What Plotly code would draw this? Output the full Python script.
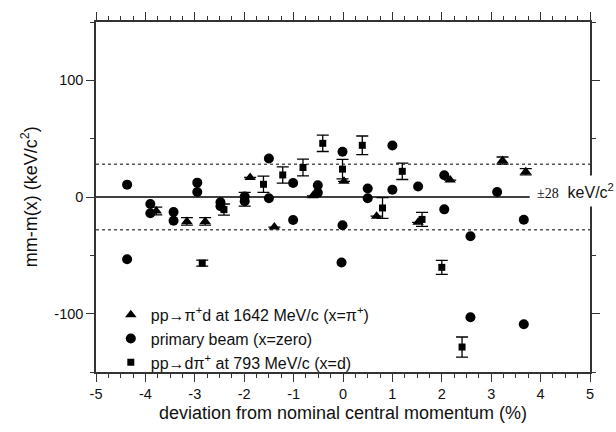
import plotly.graph_objects as go

# pp -> pi+ d at 1642 MeV/c (x = pi+)
tri_x = [-3.78, -3.16, -2.79, -1.88, -1.39, -0.61, 0.02, 0.68, 1.52, 2.17, 3.23, 3.70]
tri_y = [-12.0, -20.9, -20.9, 16.7, -25.8, 1.0, 13.4, -16.4, -21.7, 14.5, 31.3, 21.7]
tri_e = [3.3, 3.2, 3.2, 0.0, 0.0, 0.0, 0.0, 0.0, 0.0, 0.0, 3.0, 2.7]

# primary beam (x = zero)
circ_x = [-4.37, -4.37, -3.90, -3.90, -3.43, -3.43, -2.95, -2.95, -2.48, -2.48,
          -1.99, -1.99, -1.50, -1.50, -1.01, -1.01, -0.51, -0.51, -0.01, -0.01,
          -0.03, 0.50, 0.50, 1.00, 1.00, 1.52, 2.05, 2.05, 2.58, 2.58, 3.12,
          3.66, 3.66]
circ_y = [10.6, -53.4, -6.0, -13.9, -12.8, -20.3, 12.3, 4.3, -4.6, -7.9,
          0.4, -3.7, -1.0, 33.0, 12.0, -19.7, 10.1, 3.7, 38.8, -24.2,
          -56.2, 7.3, -1.0, 44.1, 6.2, 9.0, 18.6, -10.6, -33.6, -103.1, 4.3,
          -19.5, -109.0]

# pp -> d pi+ at 793 MeV/c (x = d)
sq_x = [-2.85, -2.41, -1.99, -1.61, -1.22, -0.81, -0.41, -0.01, 0.39, 0.80,
        1.20, 1.60, 2.00, 2.41]
sq_y = [-56.7, -10.8, -1.9, 10.9, 18.9, 25.3, 46.0, 23.9, 44.3, -9.4,
        22.0, -19.2, -60.3, -128.6]
sq_e = [2.6, 4.8, 5.9, 7.0, 7.0, 7.2, 7.0, 8.3, 8.0, 8.9, 7.0, 6.0, 6.0, 8.6]

band = 28
x_ticks = [-5, -4, -3, -2, -1, 0, 1, 2, 3, 4, 5]
x_ticktext = ["-5", "-4", "-3", "-2", "-1", "0", "1", "2", "3", "4", "5"]
y_ticks = [-100, 0, 100]
y_ticktext = ["-100", "0", "100"]

FONT = "Liberation Sans, Arial, Helvetica, sans-serif"
INK = "#111"

fig = go.Figure()
fig.add_trace(go.Scatter(
    x=tri_x, y=tri_y, mode="markers",
    name="pp→π<sup>+</sup>d at 1642 MeV/c (x=π<sup>+</sup>)",
    marker=dict(symbol="triangle-up", size=10, color="black"),
    error_y=dict(type="data", array=tri_e, visible=True, color="black",
                 thickness=1.3, width=6),
))
fig.add_trace(go.Scatter(
    x=circ_x, y=circ_y, mode="markers",
    name="primary beam (x=zero)",
    marker=dict(symbol="circle", size=10, color="black"),
))
fig.add_trace(go.Scatter(
    x=sq_x, y=sq_y, mode="markers",
    name="pp→dπ<sup>+</sup> at 793 MeV/c (x=d)",
    marker=dict(symbol="square", size=7, color="black"),
    error_y=dict(type="data", array=sq_e, visible=True, color="black",
                 thickness=1.3, width=6),
))

# reference lines
fig.add_shape(type="line", xref="x", yref="y", x0=-5, x1=3.78, y0=0, y1=0,
              line=dict(color="black", width=1.5), layer="below")
for s in (1, -1):
    fig.add_shape(type="line", xref="x", yref="y", x0=-5, x1=5,
                  y0=s * band, y1=s * band,
                  line=dict(color="#555", width=1.5, dash="dot"), layer="below")

fig.add_annotation(
    xref="x", yref="y", x=3.8, y=5, xanchor="left", yanchor="middle",
    text="<span style='font-family:Liberation Serif, Times New Roman, serif;font-size:14px'>±%d</span>  keV/c<sup>2</sup>" % band,
    showarrow=False, font=dict(family=FONT, size=16, color=INK),
    bgcolor="white", borderpad=5,
)

# y-axis title (as annotation for precise placement)
fig.add_annotation(
    xref="paper", yref="paper", x=-0.135, y=0.5, xanchor="center", yanchor="middle",
    text="mm-m(x) (keV/c<sup>2</sup>)", textangle=-90, showarrow=False,
    font=dict(family=FONT, size=18, color=INK),
)

axis_common = dict(
    showgrid=False, zeroline=False, showline=True, linecolor="#333", linewidth=1.5,
    mirror="ticks", ticks="outside", ticklen=8, tickwidth=1.3, tickcolor="#333",
    tickfont=dict(family=FONT, size=14.5, color=INK),
)

fig.update_xaxes(
    range=[-5, 5], tickvals=x_ticks, ticktext=x_ticktext,
    minor=dict(dtick=0.25, tick0=0, ticks="outside", ticklen=4, tickwidth=1.2, tickcolor="#333"),
    title=dict(text="deviation from nominal central momentum (%)",
               font=dict(family=FONT, size=18, color=INK), standoff=5),
    **axis_common,
)
fig.update_yaxes(
    range=[-150, 150], tickvals=y_ticks, ticktext=y_ticktext,
    minor=dict(dtick=50, tick0=0, ticks="outside", ticklen=4, tickwidth=1.2, tickcolor="#333"),
    **axis_common,
)

fig.update_layout(
    width=616, height=432,
    margin=dict(l=96, r=26, t=13, b=54),
    paper_bgcolor="white", plot_bgcolor="white",
    font=dict(family=FONT, color=INK),
    showlegend=True,
    legend=dict(x=0.03, y=0.212, xanchor="left", yanchor="top",
                bgcolor="rgba(0,0,0,0)", font=dict(family=FONT, size=16, color=INK),
                tracegroupgap=0, itemsizing="trace"),
)

fig.write_html("out.html")
